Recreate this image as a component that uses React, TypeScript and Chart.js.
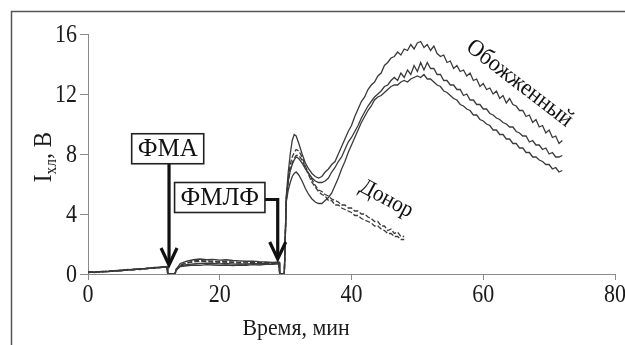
import React, { useEffect, useRef } from "react";
import { Chart, registerables } from "chart.js";

Chart.register(...registerables);

// ---------------- DATA ----------------
const timeMin = [
  0, 1, 2, 3, 4, 5, 6, 7, 8, 9, 10, 11, 12,
  12.1, 13.2, 13.4,
  14, 15, 16, 17, 18, 19, 20, 21, 22, 23, 24, 25, 26, 27, 28, 29,
  29.1, 29.8,
  30.1, 30.4, 30.7, 31, 31.3, 31.6,
  32, 32.5, 33, 33.5, 34, 34.5, 35, 35.5,
  36, 36.5, 37, 37.5, 38, 38.5, 39, 39.5, 40, 40.5,
  41, 41.5, 42, 42.5, 43, 43.5, 44, 44.5, 45, 45.5,
  46, 46.5, 47, 47.5, 48, 48.5, 49, 49.5, 50, 50.5,
  51, 51.5, 52, 52.5, 53, 53.5, 54, 54.5, 55, 55.5,
  56, 56.5, 57, 57.5, 58, 58.5, 59, 59.5, 60, 60.5,
  61, 61.5, 62, 62.5, 63, 63.5, 64, 64.5, 65, 65.5,
  66, 66.5, 67, 67.5, 68, 68.5, 69, 69.5, 70, 70.5,
  71, 71.5, 72,
];

const burnedA = [
  0.12, 0.14, 0.15, 0.18, 0.22, 0.25, 0.28, 0.32, 0.35, 0.38, 0.42, 0.45, 0.5,
  0, 0, 0.35,
  0.55, 0.62, 0.68, 0.7, 0.72, 0.7, 0.68, 0.7, 0.66, 0.68, 0.65, 0.7, 0.68, 0.72, 0.74, 0.75,
  0, 0,
  5.2, 6.8, 8.0, 8.9, 9.3, 9.2,
  8.7, 8.0, 7.4, 7.0, 6.7, 6.5, 6.4, 6.5,
  6.8, 7.0, 7.3, 7.5, 8.0, 8.5, 9.0, 9.5, 9.9, 10.5,
  11.0, 11.5, 11.8, 12.3, 12.6, 12.8, 13.2, 13.4, 13.9, 14.1,
  14.4, 14.5, 14.8, 14.6, 15.0, 14.9, 15.3, 15.0, 15.4, 15.5,
  15.1, 15.3, 14.9, 15.2, 14.7, 14.5, 14.6, 14.1, 14.2, 13.7,
  13.9, 13.5, 13.6, 13.2, 13.4, 12.9, 13.0, 12.5, 12.7, 12.3,
  12.4, 12.0, 12.2, 11.7, 11.9, 11.4, 11.7, 11.3, 11.2, 10.9,
  10.9, 10.5, 10.6, 10.1, 10.3, 9.8, 9.9, 9.4, 9.6, 9.1,
  9.2, 8.7, 8.9,
];

const burnedB = [
  0.1, 0.12, 0.16, 0.18, 0.2, 0.24, 0.27, 0.3, 0.34, 0.37, 0.4, 0.44, 0.48,
  0, 0, 0.3,
  0.7, 0.85, 0.95, 1.0, 0.95, 0.98, 0.92, 0.95, 0.9, 0.88, 0.85, 0.86, 0.82, 0.8, 0.78, 0.8,
  0, 0,
  5.0, 6.2, 6.9, 7.3, 7.6, 7.8,
  7.7, 7.4, 7.0, 6.7, 6.4, 6.2, 6.1, 6.1,
  6.2, 6.4, 6.8, 7.1, 7.5, 7.8, 8.3, 8.8, 9.1, 9.5,
  9.9, 10.4, 10.8, 11.2, 11.5, 11.8, 12.0, 12.2, 12.5, 12.6,
  12.9, 13.1, 12.9, 13.4, 13.1, 13.6, 13.3, 13.9, 13.5, 14.1,
  13.6, 14.1, 13.7, 13.7, 13.3, 13.3, 12.9, 12.9, 12.6, 12.6,
  12.3, 12.3, 11.9, 12.0, 11.6, 11.6, 11.3, 11.3, 11.0, 11.0,
  10.7, 10.6, 10.4, 10.3, 10.1, 10.0, 9.8, 9.8, 9.5, 9.4,
  9.2, 9.2, 8.8, 8.9, 8.6, 8.6, 8.3, 8.4, 8.0, 8.1,
  7.8, 7.8, 7.9,
];

const burnedC = [
  0.15, 0.1, 0.18, 0.15, 0.22, 0.2, 0.3, 0.28, 0.36, 0.35, 0.44, 0.42, 0.5,
  0, 0, 0.25,
  0.5, 0.55, 0.6, 0.58, 0.62, 0.6, 0.58, 0.6, 0.56, 0.6, 0.58, 0.62, 0.6, 0.64, 0.65, 0.68,
  0, 0,
  4.8, 5.6, 6.1, 6.5, 6.7, 6.8,
  6.6, 6.2, 5.7, 5.3, 5.0, 4.8, 4.7, 4.7,
  4.9, 5.1, 5.4, 5.9, 6.4, 7.0, 7.5, 8.1, 8.6, 9.1,
  9.6, 10.1, 10.5, 10.9, 11.2, 11.6, 11.8, 11.9, 12.1, 12.3,
  12.5, 12.6, 12.6, 12.8, 12.9, 12.8, 13.0, 13.1, 13.2, 13.1,
  13.3, 13.0, 13.0, 12.8, 12.6, 12.5, 12.2, 12.1, 11.9, 11.7,
  11.6, 11.3, 11.2, 11.0, 10.9, 10.6, 10.6, 10.3, 10.2, 10.0,
  9.9, 9.6, 9.6, 9.3, 9.3, 9.0, 9.0, 8.7, 8.7, 8.4,
  8.4, 8.1, 8.1, 7.8, 7.8, 7.6, 7.5, 7.3, 7.3, 7.0,
  7.1, 6.8, 6.9,
];

const donor1 = [
  0.1, 0.15, 0.12, 0.2, 0.18, 0.26, 0.25, 0.32, 0.3, 0.4, 0.38, 0.46, 0.45,
  0, 0, 0.3,
  0.6, 0.75, 0.8, 0.85, 0.82, 0.8, 0.78, 0.8, 0.75, 0.74, 0.72, 0.74, 0.7, 0.72, 0.7, 0.72,
  0, 0,
  5.1, 6.4, 7.3, 7.8, 8.1, 8.3,
  8.2, 7.8, 7.2, 6.7, 6.3, 5.9, 5.6, 5.5,
  5.3, 5.2, 5.0, 4.9, 4.8, 4.6, 4.6, 4.4, 4.4, 4.2,
  4.2, 4.0, 4.0, 3.8, 3.7, 3.5, 3.5, 3.2, 3.2, 2.9,
  3.0, 2.7, 2.8, 2.5, 2.5,
];

const donor2 = [
  0.12, 0.1, 0.17, 0.16, 0.21, 0.23, 0.27, 0.3, 0.33, 0.36, 0.4, 0.43, 0.47,
  0, 0, 0.28,
  0.62, 0.7, 0.88, 0.9, 0.88, 0.85, 0.84, 0.82, 0.8, 0.78, 0.8, 0.76, 0.76, 0.74, 0.76, 0.7,
  0, 0,
  4.9, 6.1, 6.9, 7.4, 7.7, 7.9,
  7.9, 7.6, 7.1, 6.6, 6.1, 5.8, 5.5, 5.3,
  5.2, 4.9, 4.9, 4.6, 4.6, 4.4, 4.3, 4.2, 4.1, 3.9,
  3.9, 3.7, 3.6, 3.5, 3.4, 3.2, 3.2, 3.0, 2.9, 2.7,
  2.7, 2.5, 2.5, 2.3, 2.3,
];

const xTickValues = [0, 20, 40, 60, 80];
const yTickValues = [0, 4, 8, 12, 16];

const xTitle = "Время, мин";
const yTitleMain = "I";
const yTitleSub = "хл";
const yTitleRest = ", В";

const fmaLabel = "ФМА";
const fmlfLabel = "ФМЛФ";
const burnedLabel = "Обожженный";
const donorLabel = "Донор";

// ---------------- LAYOUT / STYLE ----------------
const SERIF = '"Liberation Serif", "Times New Roman", serif';
const LINE = "#3a3a3a";

// annotation anchors (data units)
const ann = {
  fma: { cx: 12.1, cy: 8.35, tipX: 12.3, tipY: 0.6 },
  fmlf: { cx: 20.0, cy: 5.1, elbowX: 28.8, tipY: 1.0 },
  burned: { x: 65.5, y: 12.7, angle: 37.5 },
  donor: { x: 45.3, y: 5.0, angle: 28 },
};

function toPoints(vals: number[]) {
  return vals.map((v, i) => ({ x: timeMin[i], y: v }));
}

function drawScaledText(
  ctx: CanvasRenderingContext2D,
  text: string,
  x: number,
  y: number,
  size: number,
  sx: number,
  align: "left" | "center" | "right",
  baseline: CanvasTextBaseline
) {
  ctx.save();
  ctx.translate(x, y);
  ctx.scale(sx, 1);
  ctx.font = `${size}px ${SERIF}`;
  ctx.textAlign = align;
  ctx.textBaseline = baseline;
  ctx.fillText(text, 0, 0);
  ctx.restore();
}

function drawArrowHead(ctx: CanvasRenderingContext2D, tx: number, ty: number) {
  ctx.beginPath();
  ctx.moveTo(tx - 8, ty - 17);
  ctx.lineTo(tx, ty);
  ctx.lineTo(tx + 8, ty - 17);
  ctx.stroke();
}

function drawBox(ctx: CanvasRenderingContext2D, text: string, cx: number, cy: number) {
  ctx.font = `25px ${SERIF}`;
  const w = ctx.measureText(text).width + 12;
  const h = 30;
  ctx.fillStyle = "#fff";
  ctx.fillRect(cx - w / 2, cy - h / 2, w, h);
  ctx.lineWidth = 1.6;
  ctx.strokeStyle = "#222";
  ctx.strokeRect(cx - w / 2, cy - h / 2, w, h);
  ctx.fillStyle = "#111";
  ctx.textAlign = "center";
  ctx.textBaseline = "middle";
  ctx.fillText(text, cx, cy + 1);
  return { w, h };
}

const decorPlugin = {
  id: "decor",
  beforeDraw(chart: any) {
    const { ctx, width, height } = chart;
    ctx.save();
    ctx.fillStyle = "#fff";
    ctx.fillRect(0, 0, width, height);
    ctx.strokeStyle = "#555";
    ctx.lineWidth = 1.5;
    ctx.beginPath();
    ctx.moveTo(11.5, height);
    ctx.lineTo(11.5, 11.5);
    ctx.lineTo(width, 11.5);
    ctx.stroke();
    ctx.restore();
  },
  afterDraw(chart: any) {
    const { ctx, scales, chartArea } = chart;
    const xs = scales.x;
    const ys = scales.y;
    ctx.save();
    ctx.fillStyle = "#1a1a1a";
    xTickValues.forEach((v) => {
      drawScaledText(ctx, String(v), xs.getPixelForValue(v), chartArea.bottom + 21, 25, 0.88, "center", "middle");
    });
    yTickValues.forEach((v) => {
      drawScaledText(ctx, String(v), chartArea.left - 11, ys.getPixelForValue(v) + 1, 25, 0.88, "right", "middle");
    });
    drawScaledText(ctx, xTitle, 296, 329, 23, 0.95, "center", "middle");

    // y title with subscript
    ctx.save();
    ctx.translate(42, 157);
    ctx.rotate(-Math.PI / 2);
    ctx.scale(0.9, 1);
    ctx.textBaseline = "alphabetic";
    ctx.font = `26px ${SERIF}`;
    const wMain = ctx.measureText(yTitleMain).width;
    const wRest = ctx.measureText(yTitleRest).width;
    ctx.font = `17px ${SERIF}`;
    const wSub = ctx.measureText(yTitleSub).width;
    const total = wMain + wSub + wRest;
    let px = -total / 2;
    ctx.textAlign = "left";
    ctx.font = `26px ${SERIF}`;
    ctx.fillText(yTitleMain, px, 9);
    px += wMain;
    ctx.font = `17px ${SERIF}`;
    ctx.fillText(yTitleSub, px, 14);
    px += wSub;
    ctx.font = `26px ${SERIF}`;
    ctx.fillText(yTitleRest, px, 9);
    ctx.restore();

    // annotations
    ctx.strokeStyle = "#111";
    ctx.lineWidth = 3.2;
    ctx.lineJoin = "miter";
    ctx.lineCap = "butt";
    const fcx = xs.getPixelForValue(ann.fma.cx);
    const fcy = ys.getPixelForValue(ann.fma.cy);
    const ftx = xs.getPixelForValue(ann.fma.tipX);
    const fty = ys.getPixelForValue(ann.fma.tipY);
    ctx.beginPath();
    ctx.moveTo(ftx, fcy);
    ctx.lineTo(ftx, fty - 2);
    ctx.stroke();
    drawArrowHead(ctx, ftx, fty);
    drawBox(ctx, fmaLabel, fcx, fcy);

    ctx.strokeStyle = "#111";
    ctx.lineWidth = 3.2;
    const mcx = xs.getPixelForValue(ann.fmlf.cx);
    const mcy = ys.getPixelForValue(ann.fmlf.cy);
    const mex = xs.getPixelForValue(ann.fmlf.elbowX);
    const mty = ys.getPixelForValue(ann.fmlf.tipY);
    ctx.beginPath();
    ctx.moveTo(mcx, mcy + 2);
    ctx.lineTo(mex, mcy + 2);
    ctx.lineTo(mex, mty - 2);
    ctx.stroke();
    drawArrowHead(ctx, mex, mty);
    drawBox(ctx, fmlfLabel, mcx, mcy);

    ctx.fillStyle = "#111";
    [
      { t: burnedLabel, a: ann.burned, s: 24 },
      { t: donorLabel, a: ann.donor, s: 23 },
    ].forEach(({ t, a, s }) => {
      ctx.save();
      ctx.translate(xs.getPixelForValue(a.x), ys.getPixelForValue(a.y));
      ctx.rotate((a.angle * Math.PI) / 180);
      ctx.scale(0.92, 1);
      ctx.font = `${s}px ${SERIF}`;
      ctx.textAlign = "center";
      ctx.textBaseline = "middle";
      ctx.fillText(t, 0, 0);
      ctx.restore();
    });
    ctx.restore();
  },
};

export default function App() {
  const canvasRef = useRef<HTMLCanvasElement | null>(null);

  useEffect(() => {
    document.body.style.margin = "0";
    const canvas = canvasRef.current;
    if (!canvas) return;
    const mk = (vals: number[], dash: number[] = []) => ({
      data: toPoints(vals),
      borderColor: LINE,
      borderWidth: 1.3,
      borderDash: dash,
      pointRadius: 0,
      tension: 0,
      fill: false,
    });
    const chart = new Chart(canvas, {
      type: "line",
      data: {
        datasets: [
          mk(donor1, [5, 2]),
          mk(donor2, [5, 2]),
          mk(burnedC),
          mk(burnedB),
          mk(burnedA),
        ],
      },
      options: {
        animation: false,
        responsive: false,
        maintainAspectRatio: false,
        layout: { padding: { top: 34, right: 10, left: 0, bottom: 0 } },
        plugins: {
          legend: { display: false },
          tooltip: { enabled: false },
          title: { display: false },
        },
        scales: {
          x: {
            type: "linear",
            min: 0,
            max: 80,
            afterBuildTicks: (s: any) => {
              s.ticks = xTickValues.map((v) => ({ value: v }));
            },
            afterFit: (s: any) => {
              s.height = 71;
            },
            ticks: { display: false },
            grid: {
              display: true,
              drawOnChartArea: false,
              drawTicks: true,
              tickLength: 6,
              color: "#8a8a8a",
              lineWidth: 1,
            },
            border: { display: true, color: "#8a8a8a", width: 1 },
          },
          y: {
            type: "linear",
            min: 0,
            max: 16,
            afterBuildTicks: (s: any) => {
              s.ticks = yTickValues.map((v) => ({ value: v }));
            },
            afterFit: (s: any) => {
              s.width = 88;
            },
            ticks: { display: false },
            grid: {
              display: true,
              drawOnChartArea: false,
              drawTicks: true,
              tickLength: 8,
              color: "#8a8a8a",
              lineWidth: 1,
            },
            border: { display: true, color: "#8a8a8a", width: 1 },
          },
        },
      },
      plugins: [decorPlugin],
    } as any);
    return () => chart.destroy();
  }, []);

  return (
    <div style={{ position: "absolute", left: 0, top: 0, width: 625, height: 345 }}>
      <canvas ref={canvasRef} width={625} height={345} style={{ width: 625, height: 345, display: "block" }} />
    </div>
  );
}
